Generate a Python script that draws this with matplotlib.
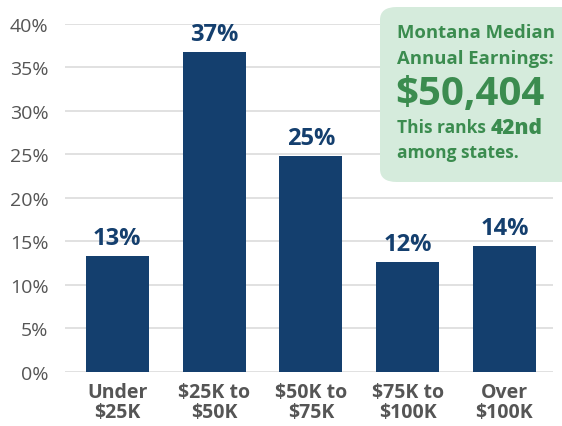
import matplotlib.pyplot as plt
from matplotlib.patches import FancyBboxPatch

plt.rcParams['font.family'] = ['Open Sans', 'DejaVu Sans']

# data
categories = ['Under\n$25K', '$25K to\n$50K', '$50K to\n$75K', '$75K to\n$100K', 'Over\n$100K']
shares = [13.3, 36.8, 24.8, 12.6, 14.5]
share_labels = ['13%', '37%', '25%', '12%', '14%']
yticks = [0, 5, 10, 15, 20, 25, 30, 35, 40]

navy = '#143f6e'
grey = '#555555'
green = '#3b8c4f'
green_bg = '#d5ebdc'

fig = plt.figure(figsize=(5.62, 4.27), dpi=100)
ax = fig.add_axes([0.1157, 0.1265, 0.868, 0.815])

x = range(len(categories))
ax.bar(x, shares, width=0.65, color=navy, zorder=3)
for i, (v, lab) in enumerate(zip(shares, share_labels)):
    ax.text(i, v + 0.7, lab, ha='center', va='bottom', fontsize=17,
            fontweight='bold', color=navy)

ax.set_xlim(-0.54, 4.5)
ax.set_ylim(0, 40)
ax.set_yticks(yticks)
ax.set_yticklabels([f'{t}%' for t in yticks], fontsize=14, color=grey)
ax.set_xticks(list(x))
ax.set_xticklabels(categories, fontsize=14, fontweight='bold', color=grey,
                   linespacing=1.0)
ax.tick_params(length=0)
ax.tick_params(axis='y', pad=12)
ax.tick_params(axis='x', pad=7)
ax.grid(axis='y', color='#dcdcdc', linewidth=1.2, zorder=0)
for s in ax.spines.values():
    s.set_visible(False)

# callout box
box = FancyBboxPatch((380 / 562, 1 - 183 / 427), 200 / 562, 175 / 427,
                     boxstyle='round,pad=0,rounding_size=0.03',
                     transform=fig.transFigure, facecolor=green_bg,
                     edgecolor='none', zorder=5)
fig.patches.append(box)

tx = 397 / 562
fig.text(tx, 1 - 33 / 427, 'Montana Median', fontsize=13.3, fontweight='bold',
         color=green, va='center', zorder=6)
fig.text(tx, 1 - 59 / 427, 'Annual Earnings:', fontsize=13.3, fontweight='bold',
         color=green, va='center', zorder=6)
fig.text(tx - 0.003, 1 - 94 / 427, '$50,404', fontsize=29, fontweight='bold',
         color=green, va='center', zorder=6)
t1 = fig.text(tx, 1 - 128 / 427, 'This ranks ', fontsize=12.5, fontweight='bold',
              color=green, va='center', zorder=6)
fig.text(tx, 1 - 153 / 427, 'among states.', fontsize=12.5, fontweight='bold',
         color=green, va='center', zorder=6)

fig.canvas.draw()
bb = t1.get_window_extent()
fig.text(bb.x1 / fig.bbox.width, 1 - 128 / 427, '42nd', fontsize=15,
         fontweight='heavy', color=green, va='center', zorder=6)

fig.savefig('out.png', dpi=100)
